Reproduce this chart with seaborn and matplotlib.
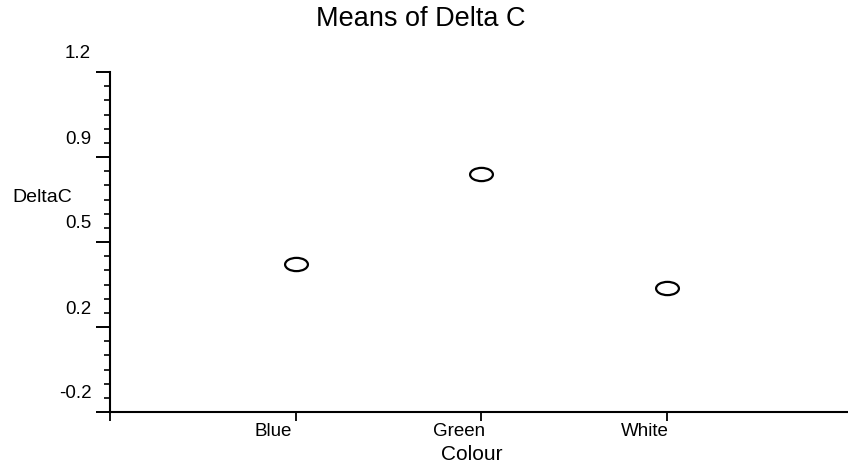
import numpy as np
import pandas as pd
import matplotlib
matplotlib.use("Agg")
import matplotlib.pyplot as plt
import seaborn as sns
from matplotlib.path import Path
from matplotlib.transforms import Affine2D, ScaledTranslation
from matplotlib.ticker import FixedLocator

# Group means of DeltaC by colour
colours = ["Blue", "Green", "White"]
delta_c_means = [0.41, 0.78, 0.31]

# Y axis labelling (labels are printed with one decimal)
y_tick_values = [-0.2, 0.15, 0.5, 0.85, 1.2]
y_tick_labels = ["-0.2", "0.2", "0.5", "0.9", "1.2"]

df = pd.DataFrame({"Colour": colours, "DeltaC": delta_c_means})

sns.set_theme(style="ticks")
plt.rcParams["font.family"] = ["Liberation Sans", "DejaVu Sans"]

W, H = 848, 463
fig = plt.figure(figsize=(W / 100, H / 100), dpi=100)
ax = fig.add_axes([110 / W, 51 / H, 738 / W, 340 / H])

# open elliptical marker
circle = Path.unit_circle()
ellipse = Path(Affine2D().scale(1.0, 0.58).transform(circle.vertices), circle.codes)

sns.scatterplot(data=df, x="Colour", y="DeltaC", marker=ellipse, s=270,
                color="white", edgecolor="black", linewidth=1.6,
                ax=ax, zorder=3, clip_on=False)

ax.set_xlim(-1, -1 + 738 / 185.5)
ax.set_ylim(-0.2, 1.2)

ax.set_xticks([-1, 0, 1, 2], [""] + colours)
ax.set_yticks(y_tick_values, y_tick_labels)
ax.yaxis.set_minor_locator(FixedLocator(np.linspace(-0.2, 1.2, 25)))

sns.despine(ax=ax)
for side in ("left", "bottom"):
    ax.spines[side].set_linewidth(1.5)
    ax.spines[side].set_color("black")

ax.tick_params(axis="y", which="major", length=10, width=1.4, direction="out",
               labelsize=13.5, pad=3.5, colors="black")
ax.tick_params(axis="y", which="minor", length=4.5, width=1.2, direction="out",
               colors="black")
ax.tick_params(axis="x", which="major", length=6.5, width=1.3, direction="out",
               labelsize=13.5, pad=1.5, colors="black")

# tick labels sit slightly off their ticks
for lab in ax.get_yticklabels():
    lab.set_transform(lab.get_transform() +
                      ScaledTranslation(0, 20 / 100, fig.dpi_scale_trans))
for lab in ax.get_xticklabels():
    lab.set_transform(lab.get_transform() +
                      ScaledTranslation(-22 / 100, 0, fig.dpi_scale_trans))

ax.set_xlabel("Colour", fontsize=15, color="black", va="center")
ax.xaxis.set_label_coords((472 - 110) / 738, (412 - 455) / 340)
ax.set_ylabel("DeltaC", fontsize=14, color="black", rotation=0,
              ha="left", va="center")
ax.yaxis.set_label_coords((12 - 110) / 738, (412 - 197) / 340)

ax.set_title("Means of Delta C", fontsize=19.5, color="black",
             x=(421 - 110) / 738, y=(412 - 27) / 340, va="center")

fig.savefig("out.png", dpi=100)
